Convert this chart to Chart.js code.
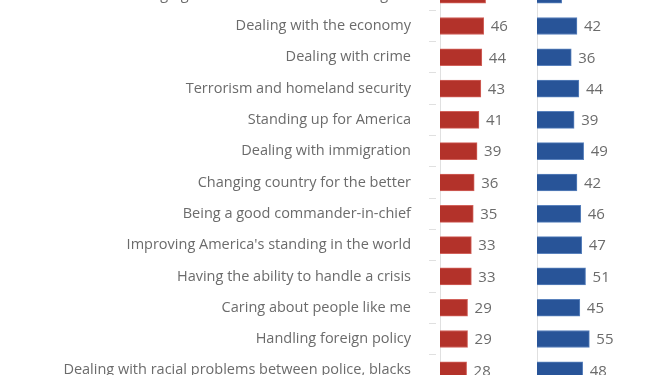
<!DOCTYPE html>
<html>
<head>
<meta charset="utf-8">
<script src="https://cdn.jsdelivr.net/npm/chart.js@4"></script>
<style>
  html, body { margin: 0; padding: 0; background: #fff; overflow: hidden; }
  body { width: 646px; height: 375px; position: relative; }
  #wrapA { position: absolute; left: 0; top: -21px; width: 536px; height: 407px; }
  #wrapB { position: absolute; left: 531px; top: -21px; width: 115px; height: 407px; }
</style>
</head>
<body>
<div id="wrapA"><canvas id="trump-chart"></canvas></div>
<div id="wrapB"><canvas id="clinton-chart"></canvas></div>
<script>
const categories = [
  'Changing business as usual in Washington',
  'Dealing with the economy',
  'Dealing with crime',
  'Terrorism and homeland security',
  'Standing up for America',
  'Dealing with immigration',
  'Changing country for the better',
  'Being a good commander-in-chief',
  "Improving America's standing in the world",
  'Having the ability to handle a crisis',
  'Caring about people like me',
  'Handling foreign policy',
  'Dealing with racial problems between police, blacks'
];
const trumpValues = [48, 46, 44, 43, 41, 39, 36, 35, 33, 33, 29, 29, 28];
const clintonValues = [26, 42, 36, 44, 39, 49, 42, 46, 47, 51, 45, 55, 48];

const textGray = '#6b6b6b';
const lineGray = '#e0e0e0';

// draws the number just past the end of each bar
const valueLabels = {
  id: 'valueLabels',
  afterDatasetsDraw(chart) {
    const ctx = chart.ctx;
    const meta = chart.getDatasetMeta(0);
    const values = chart.data.datasets[0].data;
    ctx.save();
    ctx.font = '15px "Open Sans", sans-serif';
    ctx.fillStyle = textGray;
    ctx.textAlign = 'left';
    ctx.textBaseline = 'middle';
    meta.data.forEach(function (bar, i) {
      const txt = values[i] + (i === 0 ? '%' : '');
      ctx.fillText(txt, bar.x + 7, bar.y + 1);
    });
    ctx.restore();
  }
};

function barOptions(max, showLabels) {
  return {
    indexAxis: 'y',
    responsive: true,
    maintainAspectRatio: false,
    animation: false,
    layout: { padding: 0 },
    plugins: { legend: { display: false }, tooltip: { enabled: false } },
    scales: {
      x: { display: false, min: 0, max: max },
      y: {
        afterFit: function (scale) {
          scale.width = showLabels ? 440 : 6;
          scale.paddingTop = 0;
          scale.paddingBottom = 0;
        },
        grid: {
          drawOnChartArea: false,
          drawTicks: showLabels,
          tickLength: 11,
          tickColor: lineGray,
          tickBorderDash: [7, 4]
        },
        border: { color: lineGray, width: 1 },
        ticks: {
          display: showLabels,
          padding: 18,
          color: textGray,
          font: { family: '"Open Sans", sans-serif', size: 14.5 }
        }
      }
    }
  };
}

new Chart(document.getElementById('trump-chart'), {
  type: 'bar',
  data: {
    labels: categories,
    datasets: [{
      data: trumpValues,
      backgroundColor: '#b3322a',
      borderColor: '#d2625b',
      borderWidth: 1,
      barThickness: 17
    }]
  },
  options: barOptions(101, true),
  plugins: [valueLabels]
});

new Chart(document.getElementById('clinton-chart'), {
  type: 'bar',
  data: {
    labels: categories,
    datasets: [{
      data: clintonValues,
      backgroundColor: '#285498',
      borderColor: '#5a82bd',
      borderWidth: 1,
      barThickness: 17
    }]
  },
  options: barOptions(114.5, false),
  plugins: [valueLabels]
});
</script>
</body>
</html>
